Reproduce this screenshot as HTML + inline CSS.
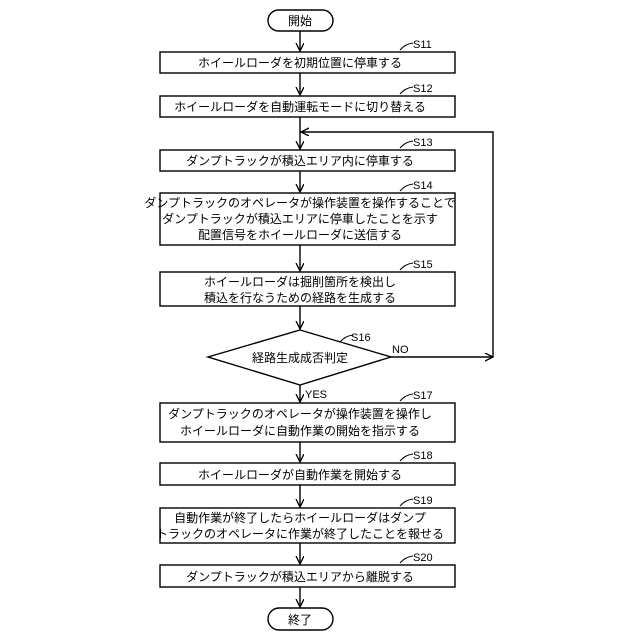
<!DOCTYPE html>
<html><head><meta charset="utf-8"><style>body{margin:0;background:#fff}svg{display:block}</style></head><body>
<svg width="640" height="640" viewBox="0 0 640 640" xmlns="http://www.w3.org/2000/svg">
<defs><marker id="a" markerWidth="10" markerHeight="10" refX="8" refY="4" orient="auto" markerUnits="userSpaceOnUse"><path d="M0,0 L8,4 L0,8" fill="none" stroke="#000" stroke-width="1.3"/></marker></defs>
<g stroke="#000" stroke-width="1.4" fill="none">
<rect x="268" y="10" width="65" height="21" rx="10.5"/>
<rect x="160" y="52" width="295" height="21"/>
<rect x="160" y="96" width="295" height="21"/>
<rect x="160" y="150" width="295" height="21"/>
<rect x="160" y="193" width="295" height="52"/>
<rect x="160" y="272" width="295" height="34"/>
<polygon points="300,330 391,357 300,385 208,357"/>
<rect x="160" y="403" width="295" height="39"/>
<rect x="160" y="463" width="295" height="22"/>
<rect x="160" y="508" width="295" height="35"/>
<rect x="160" y="565" width="295" height="22"/>
<rect x="268" y="608" width="65" height="22" rx="11"/>
<line x1="300" y1="31" x2="300" y2="51" marker-end="url(#a)"/>
<line x1="300" y1="73" x2="300" y2="95" marker-end="url(#a)"/>
<line x1="300" y1="117" x2="300" y2="149" marker-end="url(#a)"/>
<line x1="300" y1="171" x2="300" y2="192" marker-end="url(#a)"/>
<line x1="300" y1="245" x2="300" y2="271" marker-end="url(#a)"/>
<line x1="300" y1="306" x2="300" y2="329" marker-end="url(#a)"/>
<line x1="300" y1="385" x2="300" y2="402" marker-end="url(#a)"/>
<line x1="300" y1="442" x2="300" y2="462" marker-end="url(#a)"/>
<line x1="300" y1="485" x2="300" y2="507" marker-end="url(#a)"/>
<line x1="300" y1="543" x2="300" y2="564" marker-end="url(#a)"/>
<line x1="300" y1="587" x2="300" y2="607" marker-end="url(#a)"/>
<line x1="391" y1="357" x2="493" y2="357" marker-end="url(#a)"/>
<polyline points="493,357 493,132 301,132" marker-end="url(#a)"/>
<g stroke-width="1">
<path d="M400,50 q5,-6 13,-7"/><path d="M400,94 q5,-6 13,-7"/><path d="M400,148 q5,-6 13,-7"/><path d="M400,191 q5,-6 13,-7"/><path d="M400,270 q5,-6 13,-7"/><path d="M340,342 q5,-6 13,-7"/><path d="M400,401 q5,-6 13,-7"/><path d="M400,461 q5,-6 13,-7"/><path d="M400,506 q5,-6 13,-7"/><path d="M400,563 q5,-6 13,-7"/>
</g></g>
<g font-family="'Liberation Sans','Noto Sans CJK JP',sans-serif" font-size="12" fill="#000" text-anchor="middle">
<text x="300" y="25">開始</text>
<text x="300" y="67">ホイールローダを初期位置に停車する</text>
<text x="300" y="111">ホイールローダを自動運転モードに切り替える</text>
<text x="300" y="165">ダンプトラックが積込エリア内に停車する</text>
<text x="300" y="207">ダンプトラックのオペレータが操作装置を操作することで</text>
<text x="300" y="223">ダンプトラックが積込エリアに停車したことを示す</text>
<text x="300" y="239">配置信号をホイールローダに送信する</text>
<text x="300" y="286">ホイールローダは掘削箇所を検出し</text>
<text x="300" y="302">積込を行なうための経路を生成する</text>
<text x="300" y="362">経路生成成否判定</text>
<text x="300" y="418">ダンプトラックのオペレータが操作装置を操作し</text>
<text x="300" y="435">ホイールローダに自動作業の開始を指示する</text>
<text x="300" y="479">ホイールローダが自動作業を開始する</text>
<text x="300" y="522">自動作業が終了したらホイールローダはダンプ</text>
<text x="300" y="538">トラックのオペレータに作業が終了したことを報せる</text>
<text x="300" y="581">ダンプトラックが積込エリアから離脱する</text>
<text x="300" y="624">終了</text>
<g font-size="11" text-anchor="start">
<text x="413" y="48">S11</text><text x="413" y="92">S12</text><text x="413" y="146">S13</text><text x="413" y="189">S14</text><text x="413" y="268">S15</text><text x="351" y="341">S16</text><text x="413" y="399">S17</text><text x="413" y="459">S18</text><text x="413" y="504">S19</text><text x="413" y="561">S20</text>
<text x="392" y="353">NO</text><text x="305" y="398">YES</text>
</g></g>
</svg>
</body></html>
